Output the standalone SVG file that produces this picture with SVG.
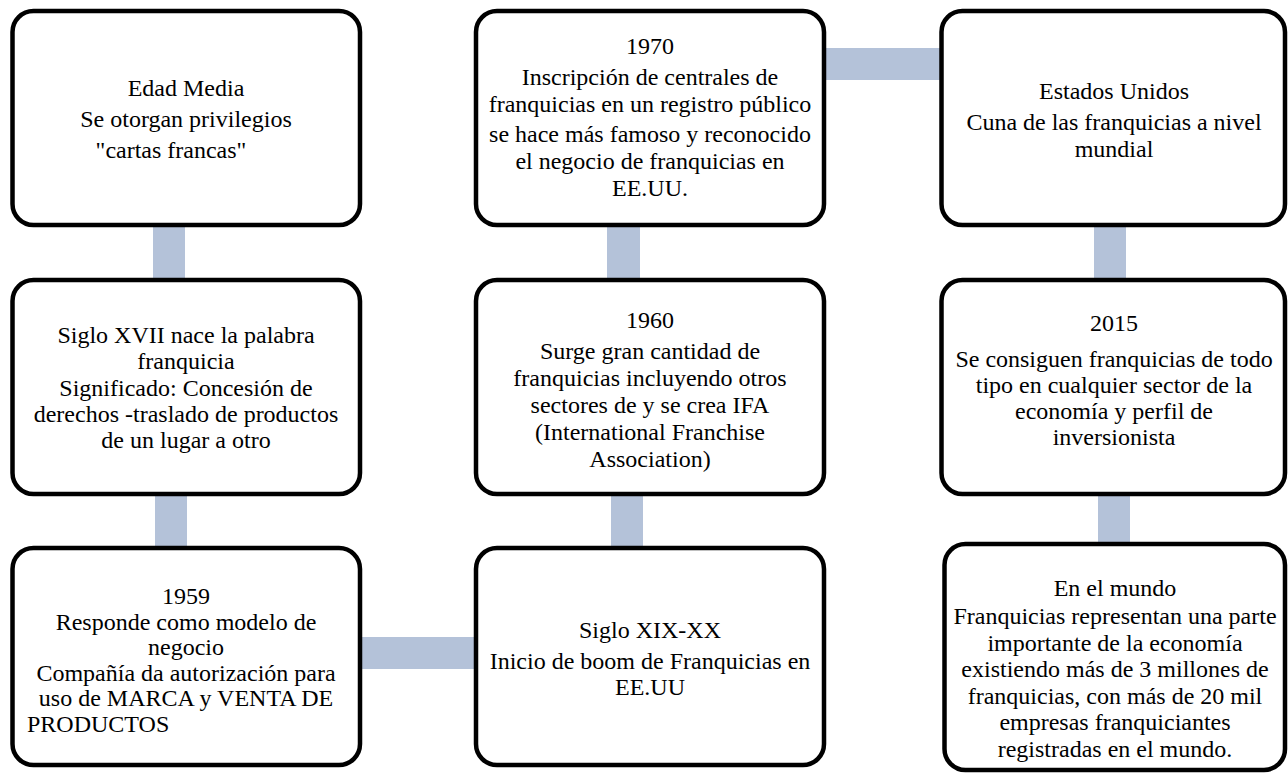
<svg xmlns="http://www.w3.org/2000/svg" width="1288" height="774" viewBox="0 0 1288 774">
  <style>
    .box { fill: #ffffff; stroke: #000000; stroke-width: 4.5; }
    .bar { fill: #b4c2d9; }
    text { font-family: "Liberation Serif", "Times New Roman", serif; font-size: 24px; fill: #000000; text-anchor: middle; }
  </style>
  <rect width="1288" height="774" fill="#ffffff"/>

  <!-- connecting bars -->
  <g id="connectors">
    <rect class="bar" x="153" y="222" width="32" height="60"/>
    <rect class="bar" x="155" y="490" width="32" height="60"/>
    <rect class="bar" x="358" y="637" width="120" height="32"/>
    <rect class="bar" x="611" y="490" width="32" height="60"/>
    <rect class="bar" x="607" y="222" width="33" height="60"/>
    <rect class="bar" x="822" y="48" width="121" height="32"/>
    <rect class="bar" x="1094" y="222" width="32" height="60"/>
    <rect class="bar" x="1098" y="490" width="32" height="56"/>
  </g>

  <g id="edad-media">
    <rect class="box" x="12.5" y="11" width="347.5" height="214" rx="21"/>
    <text x="186" y="96">Edad Media</text>
    <text x="186" y="127">Se otorgan privilegios</text>
    <text x="171" y="158">"cartas francas"</text>
  </g>

  <g id="siglo-xvii">
    <rect class="box" x="12.5" y="280" width="347.5" height="214" rx="21"/>
    <text x="186" y="343">Siglo XVII nace la palabra</text>
    <text x="186" y="369">franquicia</text>
    <text x="186" y="396">Significado: Concesión de</text>
    <text x="186" y="422">derechos -traslado de productos</text>
    <text x="186" y="448">de un lugar a otro</text>
  </g>

  <g id="anio-1959">
    <rect class="box" x="12.5" y="548" width="347.5" height="217" rx="21"/>
    <text x="186" y="604">1959</text>
    <text x="186" y="630">Responde como modelo de</text>
    <text x="186" y="655">negocio</text>
    <text x="186" y="681">Compañía da autorización para</text>
    <text x="186" y="706">uso de MARCA y VENTA DE</text>
    <text x="27" y="732" style="text-anchor:start">PRODUCTOS</text>
  </g>

  <g id="anio-1970">
    <rect class="box" x="476" y="11" width="348" height="214" rx="21"/>
    <text x="650" y="54">1970</text>
    <text x="650" y="85">Inscripción de centrales de</text>
    <text x="650" y="112">franquicias en un registro público</text>
    <text x="650" y="142">se hace más famoso y reconocido</text>
    <text x="650" y="169">el negocio de franquicias en</text>
    <text x="650" y="196">EE.UU.</text>
  </g>

  <g id="anio-1960">
    <rect class="box" x="476" y="280" width="348" height="214" rx="21"/>
    <text x="650" y="328">1960</text>
    <text x="650" y="359">Surge gran cantidad de</text>
    <text x="650" y="386">franquicias incluyendo otros</text>
    <text x="650" y="413">sectores de y se crea IFA</text>
    <text x="650" y="440">(International Franchise</text>
    <text x="650" y="467">Association)</text>
  </g>

  <g id="siglo-xix-xx">
    <rect class="box" x="476" y="548" width="348" height="217" rx="21"/>
    <text x="650" y="638">Siglo XIX-XX</text>
    <text x="650" y="669">Inicio de boom de Franquicias en</text>
    <text x="650" y="695">EE.UU</text>
  </g>

  <g id="estados-unidos">
    <rect class="box" x="941.5" y="11" width="343.5" height="214" rx="21"/>
    <text x="1114" y="99">Estados Unidos</text>
    <text x="1114" y="130">Cuna de las franquicias a nivel</text>
    <text x="1114" y="157">mundial</text>
  </g>

  <g id="anio-2015">
    <rect class="box" x="941.5" y="280" width="343.5" height="214" rx="21"/>
    <text x="1114" y="331">2015</text>
    <text x="1114" y="367">Se consiguen franquicias de todo</text>
    <text x="1114" y="393">tipo en cualquier sector de la</text>
    <text x="1114" y="419">economía y perfil de</text>
    <text x="1114" y="445">inversionista</text>
  </g>

  <g id="en-el-mundo">
    <rect class="box" x="944.5" y="544" width="340.5" height="226" rx="21"/>
    <text x="1115" y="596">En el mundo</text>
    <text x="1115" y="624">Franquicias representan una parte</text>
    <text x="1115" y="651">importante de la economía</text>
    <text x="1115" y="677">existiendo más de 3 millones de</text>
    <text x="1115" y="704">franquicias, con más de 20 mil</text>
    <text x="1115" y="730">empresas franquiciantes</text>
    <text x="1115" y="757">registradas en el mundo.</text>
  </g>
</svg>
